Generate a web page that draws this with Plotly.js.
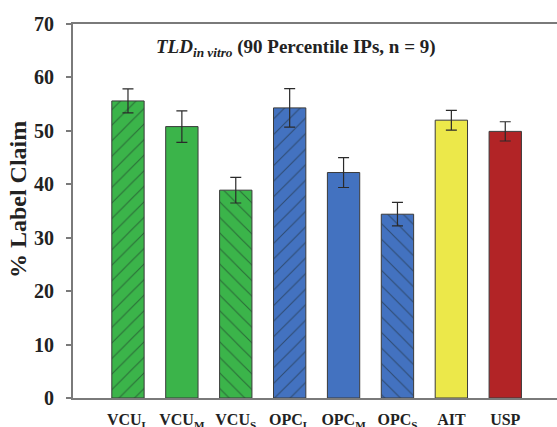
<!DOCTYPE html>
<html>
<head>
<meta charset="utf-8">
<script src="https://cdn.plot.ly/plotly-3.0.1.min.js"></script>
<style>html,body{margin:0;padding:0;background:#fff;}#chart{width:557px;height:427px;}</style>
</head>
<body>
<div id="chart"></div>
<script>
const categories = ["VCU<sub>L</sub>", "VCU<sub>M</sub>", "VCU<sub>S</sub>", "OPC<sub>L</sub>", "OPC<sub>M</sub>", "OPC<sub>S</sub>", "AIT", "USP"];
const values = [55.6, 50.8, 38.9, 54.3, 42.2, 34.4, 52.0, 49.9];
const errors = [2.25, 2.95, 2.4, 3.6, 2.8, 2.2, 1.85, 1.8];
const barColors = ["#3bb44a", "#3bb44a", "#3bb44a", "#4372c0", "#4372c0", "#4372c0", "#ece84a", "#b22426"];
const patterns = ["/", "", "\\", "/", "", "\\", "", ""];
const yTicks = [0, 10, 20, 30, 40, 50, 60, 70];

const font = "Liberation Serif, Times New Roman, serif";
const hatchColor = "#1a2424";

const traces = categories.map((c, i) => ({
  type: "bar",
  x: [i],
  y: [values[i]],
  width: 0.6,
  marker: {
    color: barColors[i],
    line: {color: "#3a3a3a", width: 1},
    pattern: {shape: patterns[i], fgcolor: hatchColor, size: 11, solidity: 0.1, fillmode: "overlay"}
  },
  error_y: {type: "data", array: [errors[i]], visible: true, color: "#2a2a2a", thickness: 1.2, width: 5.5},
  hoverinfo: "none"
}));

const layout = {
  width: 557, height: 427,
  margin: {l: 73, r: 0, t: 24, b: 29},
  paper_bgcolor: "#fff", plot_bgcolor: "#fff",
  showlegend: false,
  barmode: "overlay",
  font: {family: font, color: "#222", size: 16},
  xaxis: {
    range: [-1.02, 7.96],
    tickmode: "array",
    tickvals: categories.map((c, i) => i),
    ticktext: categories.map(c => "<b>" + c + "</b>"),
    ticks: "",
    ticklabelstandoff: 6,
    showline: true, linecolor: "#7a7a7a", linewidth: 2, mirror: true,
    showgrid: false, zeroline: false,
    tickfont: {family: font, size: 16, color: "#222"}
  },
  yaxis: {
    range: [0, 70],
    tickmode: "array",
    tickvals: yTicks,
    ticktext: yTicks.map(v => "<b>" + v + "</b>"),
    ticks: "outside", ticklen: 5, tickwidth: 2, tickcolor: "#7a7a7a",
    ticklabelstandoff: 8,
    showline: true, linecolor: "#7a7a7a", linewidth: 2,
    showgrid: false, zeroline: false,
    tickfont: {family: font, size: 20, color: "#222"}
  },
  annotations: [{
    xref: "paper", yref: "paper", x: 0.461, y: 0.935,
    xanchor: "center", yanchor: "middle", showarrow: false,
    text: "<b><i>TLD</i><sub><i>in vitro</i></sub> (90 Percentile IPs, n = 9)</b>",
    font: {family: font, size: 19, color: "#222"}
  }, {
    xref: "paper", yref: "paper", x: -0.115, y: 0.53,
    xanchor: "center", yanchor: "middle", showarrow: false, textangle: -90,
    text: "<b>% Label Claim</b>",
    font: {family: font, size: 24, color: "#222"}
  }]
};

Plotly.newPlot("chart", traces, layout, {displayModeBar: false, staticPlot: true});
</script>
</body>
</html>
